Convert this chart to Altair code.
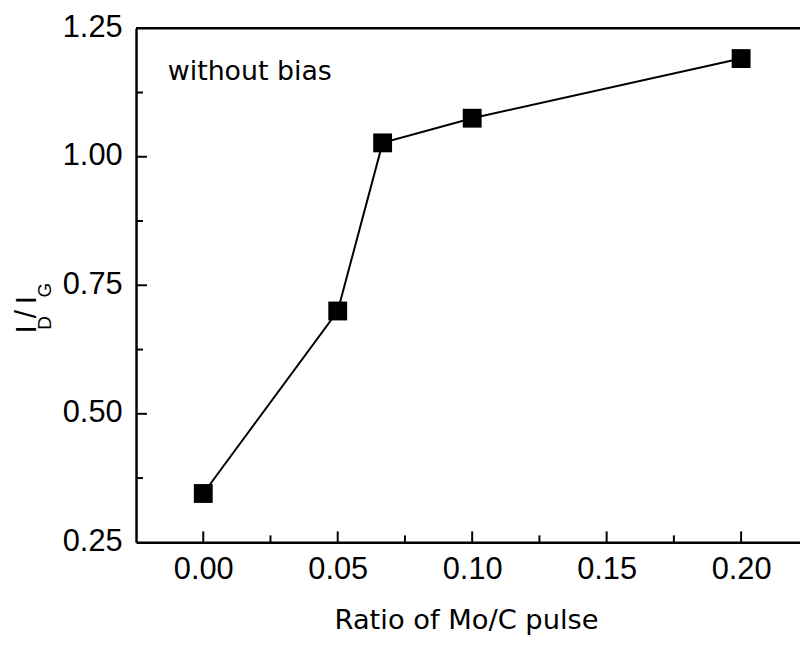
import altair as alt
import pandas as pd

# ---- data ----
ratio = [0.0, 0.05, 0.0667, 0.10, 0.20]
id_ig = [0.345, 0.700, 1.027, 1.075, 1.191]

x_major = [0.00, 0.05, 0.10, 0.15, 0.20]
x_minor = [0.025, 0.075, 0.125, 0.175]
y_labels = [0.25, 0.50, 0.75, 1.00, 1.25]
y_major = [0.50, 0.75, 1.00]
y_minor = [0.375, 0.625, 0.875, 1.125]

x_title = "Ratio of Mo/C pulse"
note = "without bias"
y_title_parts = ["I", "D", "/", "I", "G"]

W, H = 669, 518
xs = alt.Scale(domain=[-0.025, 0.2219], nice=False, zero=False)
ys = alt.Scale(domain=[0.25, 1.25], nice=False, zero=False)

df = pd.DataFrame({"ratio": ratio, "v": id_ig})

x_axis = alt.Axis(values=x_major, format=".2f", ticks=False, grid=False,
                  labelFont="Liberation Sans", labelFontSize=31, labelColor="black",
                  labelPadding=12, domainColor="black", domainWidth=2.5, title=None,
                  labelFlush=False)
y_axis = alt.Axis(values=y_labels, format=".2f", ticks=False, grid=False,
                  labelFont="Liberation Sans", labelFontSize=31, labelColor="black",
                  labelPadding=14, labelOffset=-1, domainColor="black", domainWidth=2.5,
                  title=None, labelFlush=False)

line = alt.Chart(df).mark_line(color="black", strokeWidth=2).encode(
    x=alt.X("ratio:Q", scale=xs, axis=x_axis),
    y=alt.Y("v:Q", scale=ys, axis=y_axis),
)
points = alt.Chart(df).mark_point(shape="square", size=361, filled=True,
                                  color="black", opacity=1).encode(
    x=alt.X("ratio:Q", scale=xs), y=alt.Y("v:Q", scale=ys))


def xticks(vals, length):
    return alt.Chart(pd.DataFrame({"ratio": vals})).mark_rule(
        color="black", strokeWidth=2).encode(
        x=alt.X("ratio:Q", scale=xs), y=alt.value(H), y2=alt.value(H - length))


def yticks(vals, length):
    return alt.Chart(pd.DataFrame({"v": vals})).mark_rule(
        color="black", strokeWidth=2).encode(
        y=alt.Y("v:Q", scale=ys), x=alt.value(0), x2=alt.value(length))


top_border = alt.Chart(pd.DataFrame({"a": [0]})).mark_rule(
    color="black", strokeWidth=2.5).encode(
    x=alt.value(0), x2=alt.value(W), y=alt.value(0))


def label(text, x, y, size, font="Liberation Sans", angle=0, align="center",
          baseline="alphabetic"):
    return alt.Chart(pd.DataFrame({"t": [text]})).mark_text(
        font=font, fontSize=size, color="black", angle=angle, align=align,
        baseline=baseline).encode(text="t:N", x=alt.value(x), y=alt.value(y))


note_txt = label(note, 32, 52, 27, font="DejaVu Sans", align="left")
xtitle_txt = label(x_title, 333, 605, 27.5, font="DejaVu Sans")

yt = [
    label(y_title_parts[0], -101, 303.5, 30, angle=270),
    label(y_title_parts[1], -86, 297, 19, angle=270),
    label(y_title_parts[2], -101, 288, 30, angle=270),
    label(y_title_parts[3], -101, 274, 30, angle=270),
    label(y_title_parts[4], -86, 264, 19, angle=270),
]

chart = alt.layer(
    line, points,
    xticks(x_major, 11), xticks(x_minor, 7),
    yticks(y_major, 11), yticks(y_minor, 7),
    top_border, note_txt, xtitle_txt, *yt,
).properties(
    width=W, height=H,
    autosize=alt.AutoSizeParams(type="none"),
    padding={"left": 129, "top": 18, "right": 0, "bottom": 94},
    background="white",
).configure_view(stroke=None)

chart.save("out.html", embed_options={"renderer": "svg", "actions": False})
